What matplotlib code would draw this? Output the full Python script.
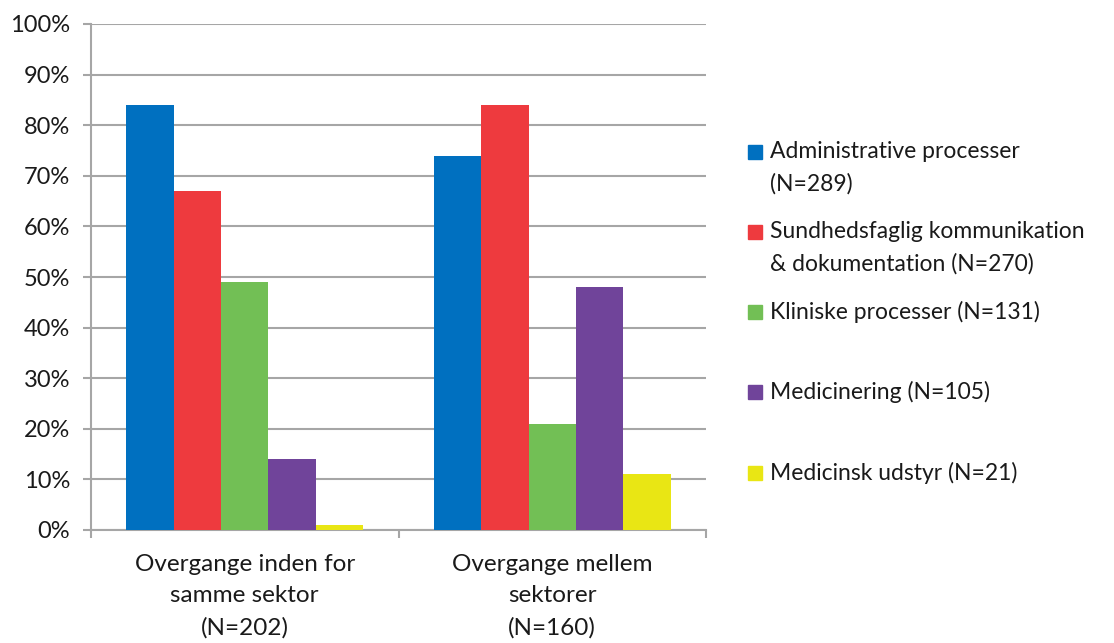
import matplotlib
matplotlib.use("Agg")
import matplotlib.pyplot as plt
from matplotlib.patches import Rectangle
import numpy as np

categories = ["Overgange inden for\nsamme sektor\n(N=202)",
              "Overgange mellem\nsektorer\n(N=160)"]
series_names = ["Administrative processer\n(N=289)",
                "Sundhedsfaglig kommunikation\n& dokumentation (N=270)",
                "Kliniske processer (N=131)",
                "Medicinering (N=105)",
                "Medicinsk udstyr (N=21)"]
administrative = [84, 74]
sundhed = [67, 84]
kliniske = [49, 21]
medicinering = [14, 48]
udstyr = [1, 11]
series_values = [administrative, sundhed, kliniske, medicinering, udstyr]
colors = ["#0070C0", "#EE3A3E", "#72BF55", "#70449A", "#E9E614"]
yticks = [0, 10, 20, 30, 40, 50, 60, 70, 80, 90, 100]

plt.rcParams["font.family"] = ["Lato", "DejaVu Sans"]
text_color = "#1a1a1a"
grid_color = "#A6A6A6"

W, H = 1114, 643
fig = plt.figure(figsize=(W / 100, H / 100), dpi=100)
ax = fig.add_axes([91 / W, (H - 530) / H, (706 - 91) / W, (530 - 24) / H])

n = len(series_values)
width = 1 / (n + 1.5)
x = np.arange(len(categories))
for i, (vals, c) in enumerate(zip(series_values, colors)):
    ax.bar(x + (i - (n - 1) / 2) * width, vals, width, color=c, zorder=3)

ax.set_xlim(-0.5, 1.5)
ax.set_ylim(0, 100)
ax.set_yticks(yticks)
ax.set_yticklabels([f"{v}%" for v in yticks], fontsize=17, color=text_color)
ax.yaxis.grid(True, color=grid_color, linewidth=1.5, zorder=0)
ax.set_axisbelow(True)

ax.set_xticks([-0.5, 0.5, 1.5])
ax.set_xticklabels([])
ax.set_xticks([0, 1], minor=True)
ax.set_xticklabels(categories, minor=True, fontsize=17.5, color=text_color,
                   linespacing=1.62)
ax.tick_params(axis="x", which="minor", length=0, pad=17)
ax.tick_params(axis="x", which="major", length=6, width=1.5, color=grid_color)
ax.tick_params(axis="y", length=6, width=1.5, color=grid_color, pad=9)

for s in ["top", "right"]:
    ax.spines[s].set_visible(False)
for s in ["left", "bottom"]:
    ax.spines[s].set_color(grid_color)
    ax.spines[s].set_linewidth(1.5)

# Legend drawn as individual swatches and labels
legend_y = [168, 248, 312, 392, 473]
first_line_y = [152, 232, 312, 392, 473]
for name, c, yc, y1 in zip(series_names, colors, legend_y, first_line_y):
    fig.patches.append(Rectangle((748 / W, (H - y1 - 7) / H), 14 / W, 14 / H,
                                 transform=fig.transFigure, color=c))
    fig.text(770 / W, (H - yc) / H, name, fontsize=16.5, color=text_color,
             va="center", ha="left", linespacing=1.6)

fig.savefig("out.png", dpi=100)
